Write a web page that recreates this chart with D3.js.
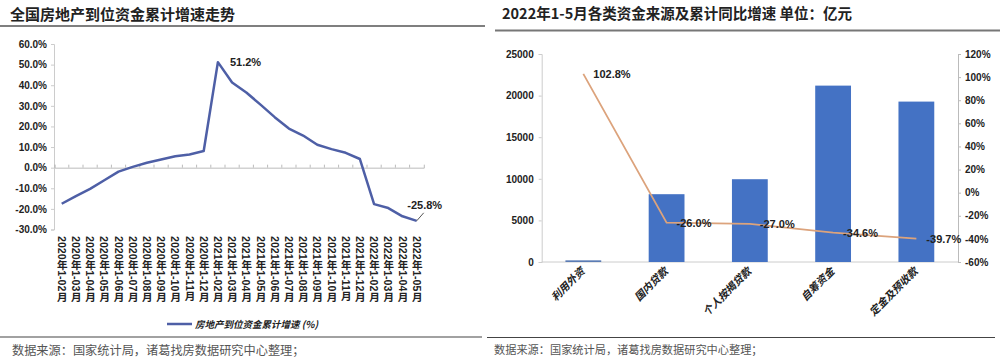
<!DOCTYPE html>
<html lang="zh">
<head>
    <meta charset="UTF-8">
    <title>房地产到位资金</title>
    <style>
        body { margin: 0; background: #fff; }
        svg text { font-family: "Liberation Sans", Arial, "Noto Sans CJK SC", sans-serif; }
        .cjk { font-family: "Noto Sans CJK SC", sans-serif; }
    </style>
</head>
<body>
    <svg id="chart" width="1000" height="364"></svg>

    <script src="https://d3js.org/d3.v7.min.js"></script>
    <script>
        // left chart data: 累计增速 (%)
        const months = [
            '2020年1-02月', '2020年1-03月', '2020年1-04月', '2020年1-05月', '2020年1-06月', '2020年1-07月',
            '2020年1-08月', '2020年1-09月', '2020年1-10月', '2020年1-11月', '2020年1-12月',
            '2021年1-02月', '2021年1-03月', '2021年1-04月', '2021年1-05月', '2021年1-06月', '2021年1-07月',
            '2021年1-08月', '2021年1-09月', '2021年1-10月', '2021年1-11月', '2021年1-12月',
            '2022年1-02月', '2022年1-03月', '2022年1-04月', '2022年1-05月'
        ];
        const growth = [
            -17.5, -13.8, -10.3, -6.1, -1.9, 0.4, 2.4, 4.0, 5.5, 6.4, 8.1,
            51.2, 41.3, 36.5, 30.6, 24.5, 19.0, 15.6, 11.1, 9.0, 7.2, 4.2,
            -17.7, -19.6, -23.6, -25.8
        ];
        const leftTicks = [60, 50, 40, 30, 20, 10, 0, -10, -20, -30];

        // right chart data
        const sources = ['利用外资', '国内贷款', '个人按揭贷款', '自筹资金', '定金及预收款'];
        const amounts = [200, 8150, 9950, 21200, 19280];
        const yoy = [102.8, -26.0, -27.0, -34.6, -39.7];
        const amountTicks = [0, 5000, 10000, 15000, 20000, 25000];
        const yoyTicks = [-60, -40, -20, 0, 20, 40, 60, 80, 100, 120];

        const svg = d3.select('#chart');

        // ---------- headers / footers ----------
        svg.append('text').attr('class', 'cjk')
           .attr('x', 10).attr('y', 20)
           .style('font-size', '15px').style('font-weight', 'bold').attr('fill', '#222')
           .text('全国房地产到位资金累计增速走势');
        svg.append('line').attr('x1', 0).attr('x2', 485).attr('y1', 26).attr('y2', 26)
           .attr('stroke', '#555').attr('stroke-width', 1.5);

        svg.append('text').attr('class', 'cjk')
           .attr('x', 502).attr('y', 19)
           .style('font-size', '14.5px').style('font-weight', 'bold').attr('fill', '#222')
           .text('2022年1-5月各类资金来源及累计同比增速 单位：亿元');
        svg.append('line').attr('x1', 495).attr('x2', 1000).attr('y1', 30.5).attr('y2', 30.5)
           .attr('stroke', '#777').attr('stroke-width', 2);

        svg.append('line').attr('x1', 0).attr('x2', 482).attr('y1', 337).attr('y2', 337)
           .attr('stroke', '#444').attr('stroke-width', 1.2);
        svg.append('line').attr('x1', 487).attr('x2', 995).attr('y1', 337.5).attr('y2', 337.5)
           .attr('stroke', '#444').attr('stroke-width', 1.2);

        svg.append('text').attr('class', 'cjk')
           .attr('x', 12).attr('y', 355)
           .style('font-size', '12.2px').attr('fill', '#555')
           .text('数据来源：国家统计局，诸葛找房数据研究中心整理；');
        svg.append('text').attr('class', 'cjk')
           .attr('x', 494).attr('y', 354)
           .style('font-size', '11.2px').attr('fill', '#555')
           .text('数据来源：国家统计局，诸葛找房数据研究中心整理；');

        // ---------- left chart ----------
        const x1 = d3.scaleBand().domain(months).range([54.6, 423.8]);
        const y1 = d3.scaleLinear().domain([-30, 60]).range([229.5, 44]);
        const cx1 = d => x1(d) + x1.bandwidth() / 2;

        const yAxisL = svg.append('g')
           .attr('transform', 'translate(54,0)')
           .call(d3.axisLeft(y1).tickValues(leftTicks).tickSize(3).tickFormat(d => d.toFixed(1) + '%'));
        yAxisL.select('.domain').attr('stroke', '#ccc');
        yAxisL.selectAll('.tick line').attr('stroke', '#ccc');
        yAxisL.selectAll('text').attr('x', -7)
           .style('font-size', '10px').style('font-weight', 'bold').attr('fill', '#222');

        // zero line with category ticks
        const zeroAxis = svg.append('g')
           .attr('transform', 'translate(0,' + y1(0) + ')')
           .call(d3.axisTop(x1).tickSize(3).tickFormat(''));
        zeroAxis.select('.domain').attr('stroke', '#bbb');
        zeroAxis.selectAll('.tick line').attr('stroke', '#bbb')
           .attr('transform', 'translate(' + (-x1.bandwidth() / 2) + ',0)');

        // vertical month labels
        svg.append('g').selectAll('text')
           .data(months)
           .enter()
           .append('text')
           .attr('x', d => cx1(d))
           .attr('y', 236)
           .style('writing-mode', 'vertical-rl')
           .style('font-size', '10.6px').style('font-weight', 'bold')
           .attr('fill', '#222')
           .text(d => d);

        const line1 = d3.line()
           .x((d, i) => cx1(months[i]))
           .y(d => y1(d));
        svg.append('path')
           .datum(growth)
           .attr('fill', 'none')
           .attr('stroke', '#4e5fa6')
           .attr('stroke-width', 2.5)
           .attr('stroke-linejoin', 'round')
           .attr('d', line1);

        // point labels
        const peakIdx = 11, lastIdx = growth.length - 1;
        svg.append('text')
           .attr('x', cx1(months[peakIdx]) + 12).attr('y', y1(growth[peakIdx]) + 4)
           .style('font-size', '11px').style('font-weight', 'bold').attr('fill', '#222')
           .text(growth[peakIdx].toFixed(1) + '%');
        svg.append('line')
           .attr('x1', cx1(months[lastIdx])).attr('y1', y1(growth[lastIdx]))
           .attr('x2', cx1(months[lastIdx]) + 7).attr('y2', y1(growth[lastIdx]) - 8)
           .attr('stroke', '#555').attr('stroke-width', 1);
        svg.append('text')
           .attr('x', cx1(months[lastIdx]) + 8).attr('y', y1(growth[lastIdx]) - 12)
           .attr('text-anchor', 'middle')
           .style('font-size', '11px').style('font-weight', 'bold').attr('fill', '#222')
           .text(growth[lastIdx].toFixed(1) + '%');

        // legend
        svg.append('line').attr('x1', 167).attr('x2', 192).attr('y1', 324).attr('y2', 324)
           .attr('stroke', '#4e5fa6').attr('stroke-width', 2.5);
        svg.append('text').attr('class', 'cjk')
           .attr('x', 195).attr('y', 327.5)
           .style('font-size', '9.5px').style('font-weight', 'bold').style('font-style', 'italic')
           .attr('fill', '#222')
           .text('房地产到位资金累计增速 (%)');

        // ---------- right chart ----------
        const x2 = d3.scaleBand().domain(sources).range([541.7, 958]).paddingInner(0.57).paddingOuter(0.285);
        const y2 = d3.scaleLinear().domain([0, 25000]).range([262, 54]);
        const y2r = d3.scaleLinear().domain([-60, 120]).range([262, 54]);
        const cx2 = d => x2(d) + x2.bandwidth() / 2;

        const axL = svg.append('g')
           .attr('transform', 'translate(541.7,0)')
           .call(d3.axisLeft(y2).tickValues(amountTicks).tickSize(3).tickFormat(d3.format('d')));
        axL.select('.domain').attr('stroke', '#ccc');
        axL.selectAll('.tick line').attr('stroke', '#ccc');
        axL.selectAll('text').attr('x', -8)
           .style('font-size', '10px').style('font-weight', 'bold').attr('fill', '#222');

        const axR = svg.append('g')
           .attr('transform', 'translate(958,0)')
           .call(d3.axisRight(y2r).tickValues(yoyTicks).tickSize(3).tickFormat(d => d + '%'));
        axR.select('.domain').attr('stroke', '#bbb');
        axR.selectAll('.tick line').attr('stroke', '#bbb');
        axR.selectAll('text').attr('x', 7)
           .style('font-size', '10px').style('font-weight', 'bold').attr('fill', '#222');

        svg.append('line').attr('x1', 541.7).attr('x2', 958).attr('y1', y2(0)).attr('y2', y2(0))
           .attr('stroke', '#ccc');

        svg.append('g').selectAll('rect')
           .data(amounts)
           .enter()
           .append('rect')
           .attr('x', (d, i) => x2(sources[i]))
           .attr('y', d => y2(d))
           .attr('width', x2.bandwidth())
           .attr('height', d => y2(0) - y2(d))
           .attr('fill', (d, i) => i === 0 ? '#5b7cb4' : '#4472c4');

        const line2 = d3.line()
           .x((d, i) => cx2(sources[i]))
           .y(d => y2r(d));
        svg.append('path')
           .datum(yoy)
           .attr('fill', 'none')
           .attr('stroke', '#dca37c')
           .attr('stroke-width', 1.8)
           .attr('d', line2);

        svg.append('g').selectAll('text')
           .data(yoy)
           .enter()
           .append('text')
           .attr('x', (d, i) => cx2(sources[i]) + 10)
           .attr('y', d => y2r(d) + 4)
           .style('font-size', '11px').style('font-weight', 'bold').attr('fill', '#222')
           .text(d => d.toFixed(1) + '%');

        svg.append('g').selectAll('text')
           .data(sources)
           .enter()
           .append('text')
           .attr('class', 'cjk')
           .attr('text-anchor', 'end')
           .attr('transform', d => 'translate(' + (cx2(d) + 2) + ',' + 272 + ') rotate(-45)')
           .style('font-size', '10.5px').style('font-weight', 'bold').style('font-style', 'italic')
           .attr('fill', '#222')
           .text(d => d);
    </script>
</body>
</html>
